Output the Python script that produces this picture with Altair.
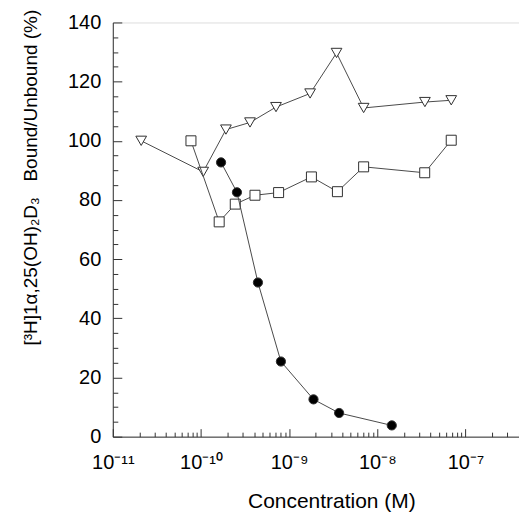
import altair as alt
import pandas as pd

# ---- data ----
tri_conc = [2.1e-11, 1.06e-10, 1.92e-10, 3.6e-10, 7.1e-10, 1.73e-9, 3.45e-9, 7.0e-9, 3.47e-8, 6.9e-8]
tri_val = [100.0, 89.5, 103.8, 106.2, 111.4, 116.0, 129.7, 111.1, 113.1, 113.7]

sq_conc = [7.7e-11, 1.61e-10, 2.45e-10, 4.1e-10, 7.6e-10, 1.79e-9, 3.53e-9, 7.0e-9, 3.45e-8, 6.9e-8]
sq_val = [100.0, 72.6, 78.6, 81.6, 82.5, 87.8, 82.8, 91.2, 89.2, 100.2]

circ_conc = [1.69e-10, 2.56e-10, 4.43e-10, 8.07e-10, 1.89e-9, 3.69e-9, 1.46e-8]
circ_val = [92.7, 82.6, 52.1, 25.4, 12.6, 8.0, 3.8]

x_major_labels = ["10⁻¹¹", "10⁻¹⁰", "10⁻⁹", "10⁻⁸", "10⁻⁷"]
x_min, x_max = 1e-11, 4.05e-7
y_min, y_max = 0, 140

x_title = "Concentration (M)"
y_title = "[³H]1α,25(OH)₂D₃\u00a0\u00a0\u00a0Bound/Unbound (%)"

# ---- styling ----
FONT = "Liberation Sans"
LINE = "#4a4a4a"
STROKE = "#303030"
AXIS = "#333333"

x_ticks = [m * 10.0 ** e for e in range(-11, -6) for m in range(1, 10) if m * 10.0 ** e <= x_max * 1.0001]
y_ticks = list(range(y_min, y_max + 1, 5))

lg = "log(datum.value)/LN10"
is_major = f"abs({lg} - round({lg})) < 0.01"
lab_arr = "[" + ",".join(f"'{s}'" for s in x_major_labels) + "]"

x_axis = alt.Axis(
    values=x_ticks,
    labelExpr=f"{is_major} ? {lab_arr}[round({lg}) + 11] : ''",
    tickSize={"expr": f"{is_major} ? -8 : -4.5"},
    labelPadding=24,
    labelFontSize=20,
    labelFont=FONT,
    labelColor="black",
    labelOverlap=False,
    labelFlush=False,
    grid=False,
    domainColor=AXIS,
    tickColor=AXIS,
    title=x_title,
    titleFont=FONT,
    titleFontSize=21,
    titleFontWeight="normal",
    titleColor="black",
    titleX=219,
    titleY=71,
    titleAlign="center",
    titleBaseline="alphabetic",
)

y_axis = alt.Axis(
    values=y_ticks,
    labelExpr="datum.value % 20 == 0 ? datum.label : ''",
    tickSize={"expr": "datum.value % 20 == 0 ? -9 : -5"},
    labelPadding=21,
    labelFontSize=20,
    labelFont=FONT,
    labelColor="black",
    labelOverlap=False,
    labelFlush=False,
    grid=False,
    domainColor=AXIS,
    tickColor=AXIS,
    title=y_title,
    titleFont=FONT,
    titleFontSize=19,
    titleFontWeight="normal",
    titleColor="black",
    titleAngle=270,
    titleX=-76,
    titleY=155,
    titleAlign="center",
    titleBaseline="alphabetic",
)

xs = alt.Scale(type="log", domain=[x_min, x_max], nice=False)
ys = alt.Scale(domain=[y_min, y_max], nice=False, zero=False)


def series(conc, val, shape, fill, size):
    df = pd.DataFrame({"conc": conc, "val": val})
    base = alt.Chart(df).encode(
        x=alt.X("conc:Q", scale=xs, axis=x_axis),
        y=alt.Y("val:Q", scale=ys, axis=y_axis),
    )
    line = base.mark_line(color=LINE, strokeWidth=1)
    pts = base.mark_point(
        shape=shape, filled=True, fill=fill, stroke=STROKE,
        strokeWidth=1, size=size, opacity=1,
    )
    return [line, pts]


layers = (
    series(tri_conc, tri_val, "triangle-down", "white", 115)
    + series(sq_conc, sq_val, "square", "white", 100)
    + series(circ_conc, circ_val, "circle", "black", 85)
)

chart = (
    alt.layer(*layers)
    .properties(
        width=407,
        height=415,
        autosize=alt.AutoSizeParams(type="none"),
        padding={"left": 105, "top": 14, "right": 0, "bottom": 76},
    )
    .configure_view(stroke=None)
    .configure(background="white")
)

chart.save("out.html", embed_options={"renderer": "svg", "actions": False})
